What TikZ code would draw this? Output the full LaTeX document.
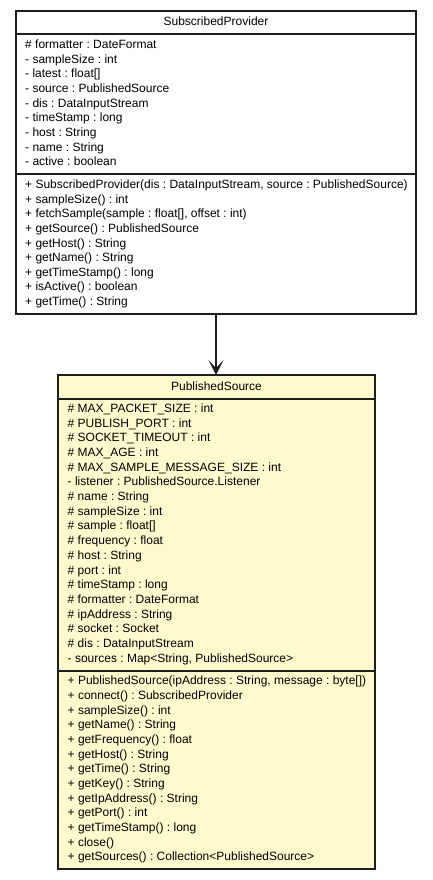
\documentclass[tikz,border=0pt]{standalone}
\usepackage{fontspec}
\setmainfont{Liberation Sans}
\usetikzlibrary{arrows.meta}
\definecolor{classfill}{HTML}{FFFACD}
\definecolor{edge}{HTML}{1E1E1E}
\tikzset{
  box/.style={draw=edge, line width=1.3bp},
  row/.style={anchor=west, inner sep=0pt, font=\fontsize{12bp}{14bp}\selectfont\frenchspacing, text height=8.5bp, text depth=2.5bp},
  title/.style={anchor=center, inner sep=0pt, font=\fontsize{12bp}{14bp}\selectfont, text height=8.5bp, text depth=2.5bp},
  assoc/.style={draw=edge, line width=1.4bp, -{Stealth[length=15bp,width=15bp,inset=8bp]}},
}
\begin{document}
\begin{tikzpicture}[x=1bp,y=-1bp]
\useasboundingbox (0,0) rectangle (432,880);
% ---- SubscribedProvider ----
\draw[box, fill=white] (16,11) rectangle (416,314);
\draw[box] (16,34) -- (416,34);
\draw[box] (16,174) -- (416,174);
\node[title] (spTitle) at (216,22.5) {SubscribedProvider};
\coordinate (spBottom) at (216,314);
\foreach \t [count=\i from 0] in {
  {\# formatter : DateFormat},
  {- sampleSize : int},
  {- latest : float[]},
  {- source : PublishedSource},
  {- dis : DataInputStream},
  {- timeStamp : long},
  {- host : String},
  {- name : String},
  {- active : boolean}}
  \node[row] (spa\i) at (25,45.3+14.7*\i) {\t};
\foreach \t [count=\i from 0] in {
  {+ SubscribedProvider(dis : DataInputStream, source : PublishedSource)},
  {+ sampleSize() : int},
  {+ fetchSample(sample : float[], offset : int)},
  {+ getSource() : PublishedSource},
  {+ getHost() : String},
  {+ getName() : String},
  {+ getTimeStamp() : long},
  {+ isActive() : boolean},
  {+ getTime() : String}}
  \node[row] (spm\i) at (25,185.7+14.6*\i) {\t};
% ---- PublishedSource ----
\draw[box, fill=classfill] (58,375) rectangle (375,869);
\draw[box] (58,399) -- (375,399);
\draw[box] (58,671) -- (375,671);
\node[title] (psTitle) at (216.5,387) {PublishedSource};
\coordinate (psTop) at (216,375);
\foreach \t [count=\i from 0] in {
  {\# MAX\_PACKET\_SIZE : int},
  {\# PUBLISH\_PORT : int},
  {\# SOCKET\_TIMEOUT : int},
  {\# MAX\_AGE : int},
  {\# MAX\_SAMPLE\_MESSAGE\_SIZE : int},
  {- listener : PublishedSource.Listener},
  {\# name : String},
  {\# sampleSize : int},
  {\# sample : float[]},
  {\# frequency : float},
  {\# host : String},
  {\# port : int},
  {\# timeStamp : long},
  {\# formatter : DateFormat},
  {\# ipAddress : String},
  {\# socket : Socket},
  {\# dis : DataInputStream},
  {- sources : Map<String, PublishedSource>}}
  \node[row] (psa\i) at (67.5,409.3+14.7*\i) {\t};
\foreach \t [count=\i from 0] in {
  {+ PublishedSource(ipAddress : String, message : byte[])},
  {+ connect() : SubscribedProvider},
  {+ sampleSize() : int},
  {+ getName() : String},
  {+ getFrequency() : float},
  {+ getHost() : String},
  {+ getTime() : String},
  {+ getKey() : String},
  {+ getIpAddress() : String},
  {+ getPort() : int},
  {+ getTimeStamp() : long},
  {+ close()},
  {+ getSources() : Collection<PublishedSource>}}
  \node[row] (psm\i) at (67.5,681.7+14.67*\i) {\t};
% ---- association ----
\draw[assoc] (spBottom) -- (psTop);
\end{tikzpicture}
\end{document}
